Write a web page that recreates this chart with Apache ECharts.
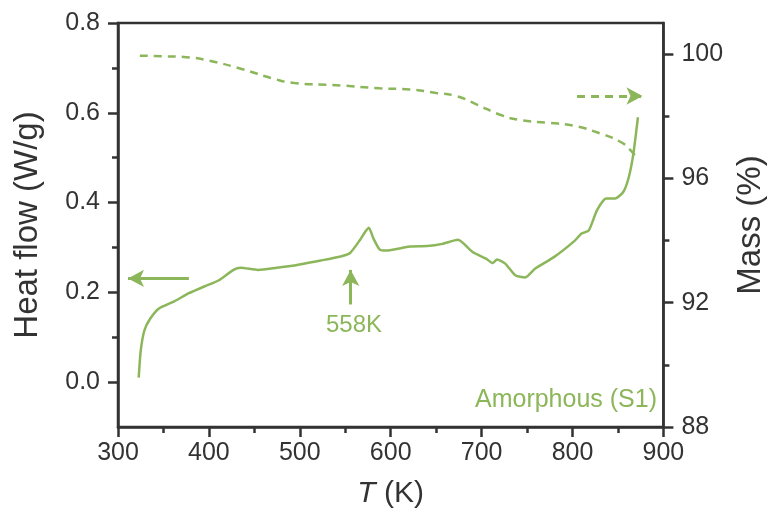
<!DOCTYPE html>
<html>
<head>
<meta charset="utf-8">
<script src="https://cdn.jsdelivr.net/npm/echarts@6/dist/echarts.min.js"></script>
<style>
  html, body { margin: 0; padding: 0; background: #fff; }
  #chart { width: 775px; height: 514px; }
</style>
</head>
<body>
<div id="chart"></div>
<script>
// heat flow (DSC) curve, T in K / W/g
const heatT = [322.8, 325, 329, 335, 345, 362, 378, 395, 411, 427, 435, 454, 475, 494, 523, 545, 555, 566, 572, 576,
  581, 588, 595, 621, 640, 657, 674, 690, 705, 712, 717, 726, 737, 748, 759, 780, 802, 810, 818, 827,
  837, 847, 856, 862, 867, 872];
const heatFlow = [0.01, 0.07, 0.115, 0.14, 0.164, 0.18, 0.198, 0.213, 0.227, 0.25, 0.255, 0.25, 0.255, 0.26, 0.271, 0.28, 0.287, 0.316, 0.335, 0.344,
  0.32, 0.295, 0.293, 0.302, 0.303, 0.308, 0.317, 0.29, 0.275, 0.265, 0.273, 0.264, 0.238, 0.233, 0.253, 0.279, 0.314, 0.331, 0.338, 0.383,
  0.409, 0.409, 0.424, 0.457, 0.509, 0.59];

// mass (TGA) curve, T in K / %
const massT = [324, 350, 375, 400, 436, 472, 494, 545, 588, 621, 650, 672, 693, 722, 744, 773, 802, 831, 853, 864, 872];
const mass = [99.95, 99.93, 99.9, 99.79, 99.52, 99.2, 99.07, 98.99, 98.9, 98.86, 98.75, 98.65, 98.4, 98.03, 97.87, 97.79, 97.69, 97.44, 97.17, 96.9, 96.59];

const leftTicks = [0, 0.2, 0.4, 0.6, 0.8];
const leftMinor = [0.1, 0.3, 0.5, 0.7];
const rightTicks = [88, 92, 96, 100];
const rightMinor = [90, 94, 98];

const green = '#8cb65a';
const ink = '#333';
const font = 'Liberation Sans, Arial, sans-serif';

const chart = echarts.init(document.getElementById('chart'));

const pair = (xs, ys) => xs.map((x, i) => [x, ys[i]]);

const arrowLine = (from, to, dashed) => ({
  silent: true,
  symbol: ['none', 'arrow'],
  symbolSize: [13, 16],
  label: { show: false },
  lineStyle: { color: green, width: 3, type: dashed ? [8, 6] : 'solid' },
  emphasis: { disabled: true },
  data: [[{ coord: from }, { coord: to }]]
});

const baseLabel = { color: ink, fontSize: 25, fontFamily: font };

chart.setOption({
  animation: false,
  grid: {
    left: 118, right: 106, top: 23, bottom: 87,
    show: true, borderColor: ink, borderWidth: 2.5
  },
  xAxis: {
    type: 'value', min: 300, max: 900, interval: 100,
    name: '{i|T} (K)',
    nameLocation: 'middle', nameGap: 52,
    nameTextStyle: {
      color: ink, fontSize: 30, fontFamily: font,
      rich: { i: { fontStyle: 'italic', fontSize: 30, fontFamily: font, color: ink } }
    },
    axisLine: { onZero: false, lineStyle: { color: ink, width: 2.5 } },
    axisTick: { length: 10, lineStyle: { color: ink, width: 2.5 } },
    minorTick: { show: true, splitNumber: 2, length: 6, lineStyle: { color: ink, width: 2.5 } },
    axisLabel: Object.assign({ margin: 14 }, baseLabel),
    splitLine: { show: false }
  },
  yAxis: [
    {
      type: 'value', min: -0.1, max: 0.8, position: 'left',
      name: 'Heat flow (W/g)', nameLocation: 'middle', nameGap: 74,
      nameTextStyle: { color: ink, fontSize: 33, fontFamily: font },
      axisLine: { show: true, lineStyle: { color: ink, width: 2.5 } },
      axisTick: { show: true, length: 10, customValues: leftTicks, lineStyle: { color: ink, width: 2.5 } },
      axisLabel: Object.assign({ margin: 18, customValues: leftTicks, formatter: v => v.toFixed(1) }, baseLabel),
      splitLine: { show: false }
    },
    {
      type: 'value', min: 88, max: 101, position: 'right',
      name: 'Mass (%)', nameLocation: 'middle', nameGap: 70, nameRotate: 90,
      nameTextStyle: { color: ink, fontSize: 33, fontFamily: font },
      axisLine: { show: true, lineStyle: { color: ink, width: 2.5 } },
      axisTick: { show: true, length: 10, customValues: rightTicks, lineStyle: { color: ink, width: 2.5 } },
      axisLabel: Object.assign({ margin: 18, customValues: rightTicks }, baseLabel),
      splitLine: { show: false }
    },
    {
      type: 'value', min: -0.1, max: 0.8, position: 'left',
      axisLine: { show: false },
      axisTick: { show: true, length: 6, customValues: leftMinor, lineStyle: { color: ink, width: 2.5 } },
      axisLabel: { show: false },
      splitLine: { show: false }
    },
    {
      type: 'value', min: 88, max: 101, position: 'right',
      axisLine: { show: false },
      axisTick: { show: true, length: 6, customValues: rightMinor, lineStyle: { color: ink, width: 2.5 } },
      axisLabel: { show: false },
      splitLine: { show: false }
    }
  ],
  series: [
    {
      name: 'Heat flow', type: 'line', yAxisIndex: 0,
      data: pair(heatT, heatFlow),
      showSymbol: false, smooth: 0.2,
      lineStyle: { color: green, width: 2.5 },
      markLine: arrowLine([378, 0.231], [311, 0.231], false)
    },
    {
      name: 'Arrow 558K', type: 'line', yAxisIndex: 0, data: [],
      markLine: arrowLine([556, 0.173], [556, 0.25], false)
    },
    {
      name: 'Mass', type: 'line', yAxisIndex: 1,
      data: pair(massT, mass),
      showSymbol: false, smooth: true,
      lineStyle: { color: green, width: 2.5, type: [8, 6] },
      markLine: arrowLine([805, 98.65], [877, 98.65], true)
    }
  ],
  graphic: [
    {
      type: 'text', left: 326, top: 313,
      style: { text: '558K', fill: green, font: '24px ' + font }
    },
    {
      type: 'text', right: 118, top: 388,
      style: { text: 'Amorphous (S1)', fill: green, font: '25px ' + font }
    }
  ]
});
</script>
</body>
</html>
